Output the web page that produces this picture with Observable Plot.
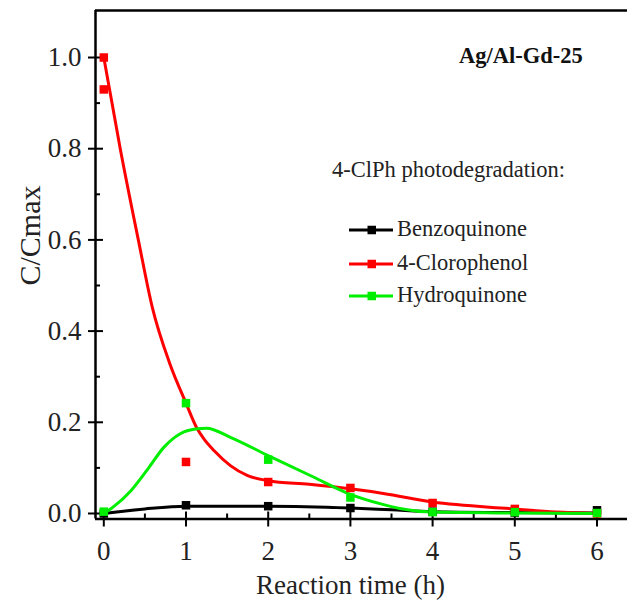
<!DOCTYPE html>
<html>
<head>
<meta charset="utf-8">
<script src="https://cdn.jsdelivr.net/npm/d3@7"></script>
<script src="https://cdn.jsdelivr.net/npm/@observablehq/plot@0.6"></script>
<style>
  html, body { margin: 0; padding: 0; background: #fff; }
  #chart svg { display: block; }
</style>
</head>
<body>
<div id="chart"></div>
<script>
// ---- data ----
const times = [0, 1, 2, 3, 4, 5, 6];
const benzoquinone = [0.0, 0.018, 0.016, 0.012, 0.004, 0.002, 0.007];
const hydroquinone = [0.004, 0.242, 0.118, 0.035, 0.003, 0.003, 0.001];
const clorophenolTimes = [0, 0, 1, 2, 3, 4, 5, 6];
const clorophenol = [1.0, 0.93, 0.113, 0.069, 0.056, 0.023, 0.010, 0.0];

// fitted curves
const clFitT = [0, 0.2, 0.42, 0.59, 0.8, 1.0, 1.13, 1.22, 1.34, 1.54, 1.75, 2.0, 2.5, 3.0, 3.4, 4.0, 5.0, 5.5, 6.0];
const clFitV = [1.0, 0.80, 0.60, 0.452, 0.33, 0.242, 0.188, 0.163, 0.138, 0.105, 0.083, 0.072, 0.064, 0.054, 0.044, 0.025, 0.010, 0.003, 0.0];
const hqFitT = [0, 0.12, 0.33, 0.53, 0.73, 0.93, 1.14, 1.25, 1.54, 2.0, 2.55, 3.0, 3.37, 3.6, 4.0, 5.0, 6.0];
const hqFitV = [0.0, 0.015, 0.05, 0.096, 0.145, 0.175, 0.186, 0.187, 0.167, 0.127, 0.080, 0.042, 0.021, 0.011, 0.003, 0.001, 0.0];
const bqFitT = [0, 0.5, 1, 2, 3, 3.5, 4, 5, 6];
const bqFitV = [0.0, 0.010, 0.016, 0.016, 0.012, 0.008, 0.004, 0.002, 0.001];

const xTicks = [0, 1, 2, 3, 4, 5, 6];
const xMinor = [0.5, 1.5, 2.5, 3.5, 4.5, 5.5];
const yTicks = [0.0, 0.2, 0.4, 0.6, 0.8, 1.0];
const yMinor = [0.1, 0.3, 0.5, 0.7, 0.9];

const seriesNames = ["Benzoquinone", "4-Clorophenol", "Hydroquinone"];
const seriesColors = ["#000000", "#ff0000", "#00ee00"];
const legendTitle = "4-ClPh photodegradation:";
const sampleLabel = "Ag/Al-Gd-25";
const xLabel = "Reaction time (h)";
const yLabel = "C/Cmax";

// ---- layout ----
const W = 629, H = 602;
const mL = 95, mR = 2, mT = 10, mB = 83.5;
const xDom = [-0.101, 6.371];
const yDom = [-0.0121, 1.1031];
const pxX = (W - mL - mR) / (xDom[1] - xDom[0]);
const pxY = (H - mT - mB) / (yDom[1] - yDom[0]);

const FONT = "Liberation Serif";
const pts = (xs, ys) => xs.map((x, i) => ({x, y: ys[i]}));
const fmt = d3.format(".1f");
const lw = 3;
const curve = "monotone-x";

const plot = Plot.plot({
  width: W, height: H,
  marginLeft: mL, marginRight: mR, marginTop: mT, marginBottom: mB,
  style: {fontFamily: FONT, background: "white"},
  x: {domain: xDom, axis: null},
  y: {domain: yDom, axis: null},
  marks: [
    // frame
    Plot.ruleX([xDom[0]], {stroke: "black", strokeWidth: 2.5}),
    Plot.ruleY([yDom[0]], {stroke: "black", strokeWidth: 2.5}),
    Plot.ruleY([yDom[1]], {stroke: "black", strokeWidth: 2.5}),
    // x ticks
    Plot.ruleX(xTicks, {x: d => d, y1: yDom[0] - 8 / pxY, y2: yDom[0] + 7 / pxY, stroke: "black", strokeWidth: 2}),
    Plot.ruleX(xMinor, {x: d => d, y1: yDom[0], y2: yDom[0] + 5 / pxY, stroke: "black", strokeWidth: 2}),
    // y ticks
    Plot.ruleY(yTicks, {y: d => d, x1: xDom[0] - 7 / pxX, x2: xDom[0] + 8 / pxX, stroke: "black", strokeWidth: 2}),
    Plot.ruleY(yMinor, {y: d => d, x1: xDom[0], x2: xDom[0] + 5 / pxX, stroke: "black", strokeWidth: 2}),
    // tick labels
    Plot.text(yTicks, {y: d => d, text: d => fmt(d), frameAnchor: "left", dx: -14, textAnchor: "end", lineAnchor: "middle", fontSize: 27, fontFamily: FONT, fill: "#222"}),
    Plot.text(xTicks, {x: d => d, text: d => String(d), frameAnchor: "bottom", dy: 40.5, lineAnchor: "bottom", fontSize: 27, fontFamily: FONT, fill: "#222"}),
    // axis titles
    Plot.text([xLabel], {x: 3, text: d => d, frameAnchor: "bottom", dy: 74.5, lineAnchor: "bottom", fontSize: 27, fontFamily: FONT, fill: "#222"}),
    Plot.text([yLabel], {y: 0.5, text: d => d, frameAnchor: "left", dx: -65, rotate: -90, lineAnchor: "middle", fontSize: 30, fontFamily: FONT, fill: "#222"}),
    // fitted curves
    Plot.line(pts(bqFitT, bqFitV), {x: "x", y: "y", stroke: seriesColors[0], strokeWidth: lw, curve}),
    Plot.line(pts(clFitT, clFitV), {x: "x", y: "y", stroke: seriesColors[1], strokeWidth: lw, curve}),
    Plot.line(pts(hqFitT, hqFitV), {x: "x", y: "y", stroke: seriesColors[2], strokeWidth: lw, curve}),
    // data points
    Plot.dot(pts(times, benzoquinone), {x: "x", y: "y", symbol: "square", r: 4.8, fill: seriesColors[0], stroke: "none"}),
    Plot.dot(pts(clorophenolTimes, clorophenol), {x: "x", y: "y", symbol: "square", r: 4.8, fill: seriesColors[1], stroke: "none"}),
    Plot.dot(pts(times, hydroquinone), {x: "x", y: "y", symbol: "square", r: 4.8, fill: seriesColors[2], stroke: "none"})
  ]
});

document.getElementById("chart").appendChild(plot);

// ---- in-plot annotations & legend ----
const svg = d3.select(plot);
const g = svg.append("g").attr("font-family", FONT).attr("text-anchor", "start");
g.append("text").attr("x", 459).attr("y", 63).attr("font-size", 22.5).attr("font-weight", "bold").attr("fill", "#111").text(sampleLabel);
g.append("text").attr("x", 332).attr("y", 177).attr("font-size", 22.5).attr("fill", "#222").text(legendTitle);
const rowY = [230, 264, 296];
seriesNames.forEach((name, i) => {
  const row = g.append("g").attr("transform", `translate(0,${rowY[i]})`);
  row.append("line").attr("x1", 349).attr("x2", 393).attr("y1", 0).attr("y2", 0).attr("stroke", seriesColors[i]).attr("stroke-width", lw);
  row.append("rect").attr("x", 367.5).attr("y", -4.25).attr("width", 8.5).attr("height", 8.5).attr("fill", seriesColors[i]);
  row.append("text").attr("x", 397).attr("y", 5.5).attr("font-size", 22.5).attr("fill", "#222").text(name);
});
</script>
</body>
</html>
